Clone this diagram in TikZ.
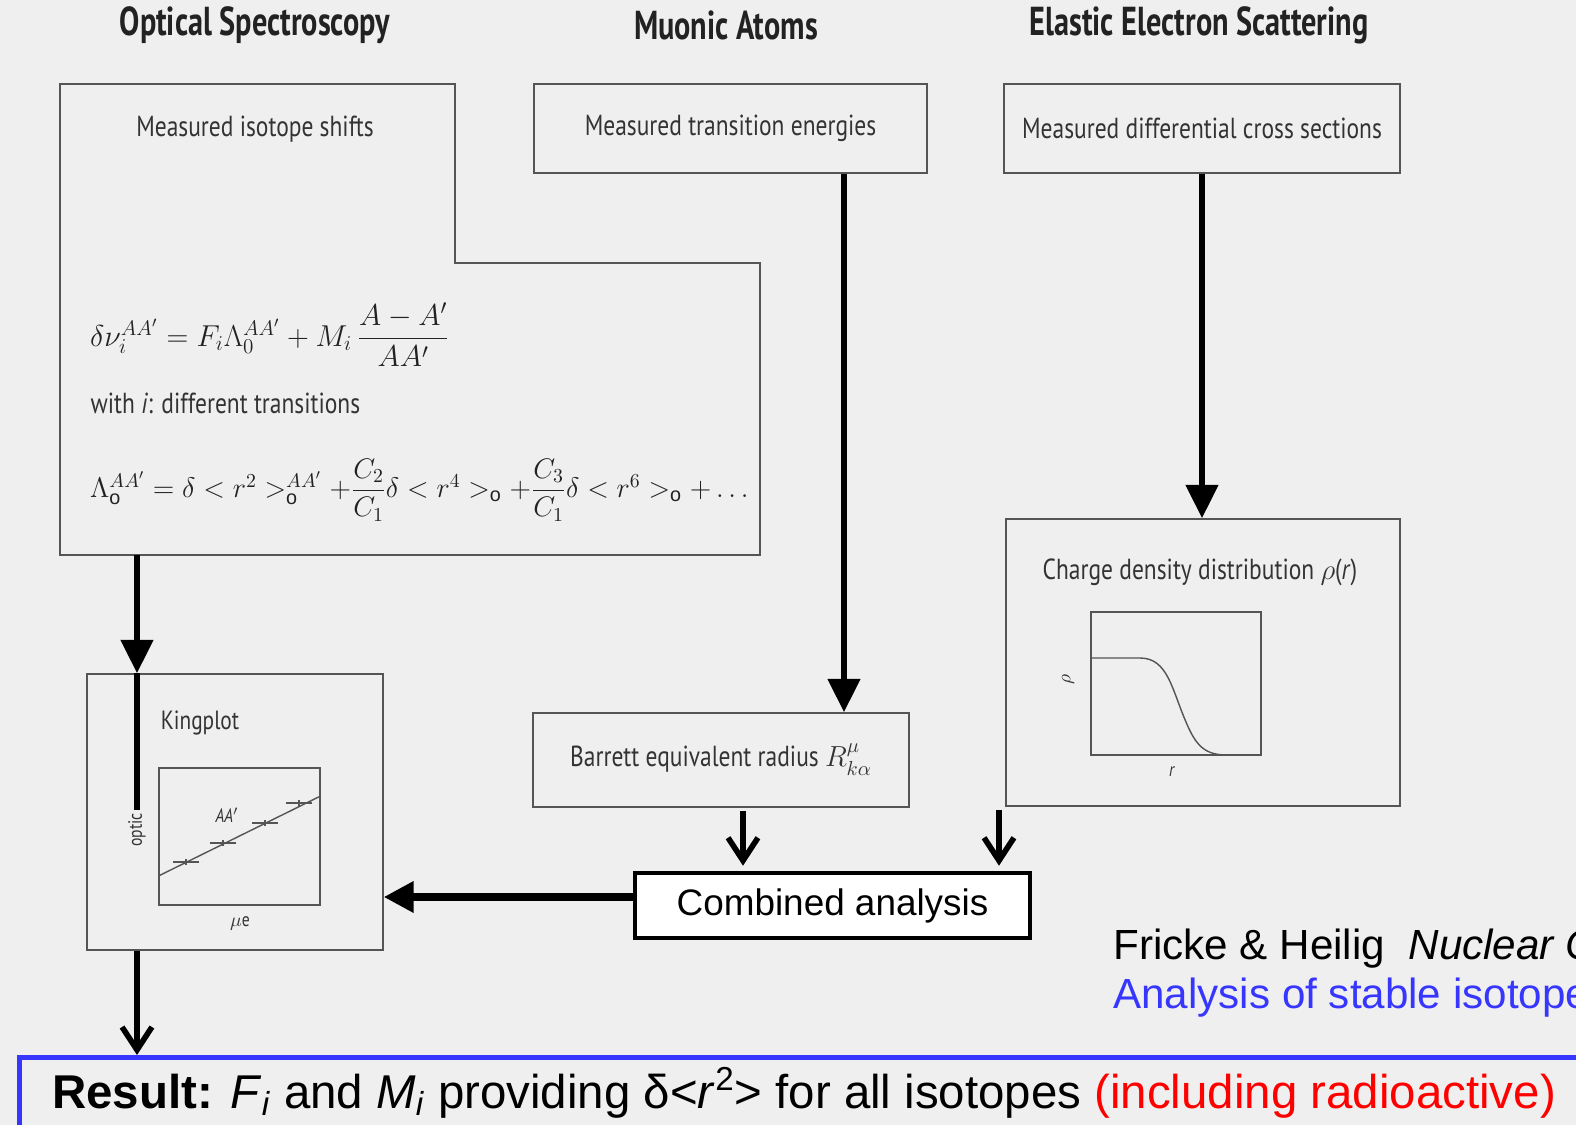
\RequirePackage{fix-cm}
\documentclass[tikz,border=0pt]{standalone}
\usepackage{fontspec}
\usepackage{amsmath}
\setmainfont{Liberation Sans}
\newfontfamily\myriad[FakeStretch=0.81]{PT Sans}
\newfontfamily\myriadhead[FakeStretch=0.75]{PT Sans}
\usetikzlibrary{positioning,arrows.meta}
\definecolor{bggray}{HTML}{EFEFEF}
\definecolor{boxgray}{HTML}{555555}
\definecolor{txtgray}{HTML}{333333}
\definecolor{headgray}{HTML}{222222}
\definecolor{resblue}{HTML}{3636FF}
\definecolor{resred}{HTML}{FF0000}

\begin{document}
\begin{tikzpicture}[x=0.02cm, y=-0.02cm,
  head/.style={font=\myriadhead\bfseries\fontsize{23}{27}\selectfont, text=headgray},
  panel/.style={draw=boxgray, line width=0.9pt, text=txtgray, font=\myriad\fontsize{16.5}{20}\selectfont},
  plotbox/.style={draw=boxgray, line width=0.7pt},
  small/.style={text=txtgray, font=\myriad\fontsize{11}{13}\selectfont, inner sep=1pt},
  formula/.style={anchor=west, text=headgray, font=\fontsize{17.2}{20}\selectfont},
  bigarrow/.style={line width=3.4pt, -{Triangle[length=19pt,width=18pt]}},
  barb/.style={line width=3.2pt, -{Straight Barb[length=13pt,width=17pt]}}]

\useasboundingbox (0,0) rectangle (1576,1125);
\clip (0,0) rectangle (1576,1125);
\fill[bggray] (0,0) rectangle (1576,1125);

\node[head] (hopt) at (255,25) {Optical Spectroscopy};
\node[head] (hmuon) at (726,25) {Muonic Atoms};
\node[head] (helec) at (1199,25) {Elastic Electron Scattering};

\draw[boxgray, line width=0.9pt] (60,84) -| (455,263) -| (760,555) -- (60,555) -- cycle;
\node[panel, draw=none] (optmeas) at (255,129) {Measured isotope shifts};
\node[formula] (eqshift) at (84,335) {$\delta\nu_i^{AA'} = F_i\Lambda_0^{AA'} + M_i\,\dfrac{A-A'}{AA'}$};
\node[panel, draw=none, anchor=west] (withi) at (84,403) {with \textit{i}: different transitions};
\node[formula, font=\fontsize{16.1}{19}\selectfont] (eqlambda) at (84,490) {$\Lambda_{\mathrm{o}}^{AA'} = \delta < r^2 >_{\mathrm{o}}^{AA'} + \dfrac{C_2}{C_1}\delta < r^4 >_{\mathrm{o}} + \dfrac{C_3}{C_1}\delta < r^6 >_{\mathrm{o}} + \ldots$};
\coordinate (optbot) at (137,555);

\node[panel, minimum width=7.86cm, minimum height=1.78cm] (muonmeas) at (730.5,128.5) {Measured transition energies};
\node[panel, minimum width=7.52cm, minimum height=1.88cm] (barrett) at (721,760) {Barrett equivalent radius $R^{\mu}_{k\alpha}$};

\node[panel, minimum width=7.92cm, minimum height=1.78cm] (elecmeas) at (1202,128.5) {Measured differential cross sections};
\node[panel, minimum width=7.88cm, minimum height=5.74cm] (charge) at (1203,662.5) {};
\node[panel, draw=none] (chargetxt) at (1200,572) {Charge density distribution $\rho$(\textit{r})};
\node[plotbox, minimum width=3.4cm, minimum height=2.86cm] (rhoplot) at (1176,683.5) {};
\draw[boxgray, line width=0.8pt] (rhoplot.west |- 0,658) -- (1140,658) .. controls (1168,658) and (1172,690) .. (1186,722) .. controls (1196,746) and (1205,755) .. (1227,755);
\node[small, rotate=90] (rholab) at (1068,680) {$\rho$};
\node[small] (rlab) at (1172,772) {\textit{r}};

\node[panel, minimum width=5.92cm, minimum height=5.52cm] (kingplot) at (235,812) {};
\node[panel, draw=none, font=\myriad\fontsize{15}{18}\selectfont] (kingtxt) at (200,723) {Kingplot};
\node[plotbox, minimum width=3.22cm, minimum height=2.74cm] (kplot) at (239.5,836.5) {};
\draw[boxgray, line width=0.8pt] (kplot.west |- 0,876) -- (kplot.east |- 0,796);
\foreach \px/\py in {186/862, 223/843, 265/823, 299/803}
  \draw[boxgray, line width=0.6pt] (\px-13,\py) -- (\px+13,\py) (\px,\py-3) -- (\px,\py+3);
\node[small] (aalab) at (227,815) {\textit{AA}$'$};
\node[small, rotate=90] (opticlab) at (137,830) {optic};
\node[small] (mulab) at (240,923) {$\mu$e};

\draw[bigarrow] (optbot) -- (optbot |- kingplot.north);
\draw[line width=3.4pt] (optbot |- kingplot.north) -- (137,810);
\draw[bigarrow] (844,0 |- muonmeas.south) -- (844,0 |- barrett.north);
\draw[bigarrow] (1202,0 |- elecmeas.south) -- (1202,0 |- charge.north);

\node[draw=black, fill=white, line width=2.3pt, minimum width=7.9cm, minimum height=1.3cm, font=\fontsize{21}{25}\selectfont] (combined) at (832.5,905.5) {Combined analysis};
\draw[barb, shorten <=2pt, shorten >=3pt] (743,0 |- barrett.south) -- (743,0 |- combined.north);
\draw[barb, shorten <=2pt, shorten >=3pt] (999,0 |- charge.south) -- (999,0 |- combined.north);
\draw[line width=4pt, -{Triangle[length=17pt,width=17pt]}] (combined.west |- 0,897) -- (kingplot.east |- 0,897);

\node[draw=resblue, line width=3pt, anchor=north west, minimum width=32cm, minimum height=2cm] (result) at (17,1055) {};
\draw[barb] (137,0 |- kingplot.south) -- (137,0 |- result.north);
\node[anchor=base west, font=\fontsize{27}{31}\selectfont, inner sep=0pt] (resulttxt) at (52,1108) {\textbf{Result:} \textit{F}\textsubscript{\textit{i}} and \textit{M}\textsubscript{\textit{i}} providing δ<\textit{r}\textsuperscript{2}> for all isotopes \textcolor{resred}{(including radioactive)}};

\node[anchor=base west, font=\fontsize{24}{28}\selectfont, inner sep=0pt] (ref) at (1113,959) {Fricke \& Heilig\ \ \textit{Nuclear Charge Radii}};
\node[anchor=base west, font=\fontsize{24}{28}\selectfont, inner sep=0pt, text=resblue] (refnote) at (1113,1008) {Analysis of stable isotopes};
\end{tikzpicture}
\end{document}
